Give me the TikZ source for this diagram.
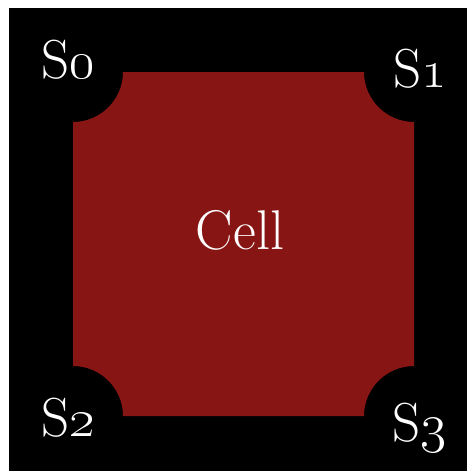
\RequirePackage{fix-cm}
\documentclass[tikz,border=0pt]{standalone}
\usepackage{tikz}
\usepackage{xcolor}
\definecolor{cellred}{RGB}{135,21,20}

\begin{document}
\begin{tikzpicture}[x=1pt,y=1pt,yscale=-1,xscale=1,
    corner label/.style={text=white,inner sep=0pt,anchor=base,font=\fontsize{55}{60}\selectfont},
    cell label/.style={text=white,inner sep=0pt,anchor=base,font=\fontsize{56}{60}\selectfont}]
                    \useasboundingbox (0,0) rectangle (467,471);
                    %Shape: Rectangle [frame]
                    \fill [white] (0,0) rectangle (467,471);
                    \fill [black] (9,8) rectangle (467,471);
                    %Shape: Square with concave corners [cell]
                    \fill [cellred] (123,72) -- (364,72) arc [start angle=180, end angle=90, radius=50]
                        -- (414,366) arc [start angle=270, end angle=180, radius=50]
                        -- (123,416) arc [start angle=0, end angle=-90, radius=50]
                        -- (73,122) arc [start angle=90, end angle=0, radius=50] -- cycle ;

                    % Text Node
                    \node [corner label] (s0) at (68,78) {S\oldstylenums{0}};
                    % Text Node
                    \node [corner label] (s1) at (420,87) {S\oldstylenums{1}};
                    % Text Node
                    \node [corner label] (s2) at (68,436) {S\oldstylenums{2}};
                    % Text Node
                    \node [corner label] (s3) at (419,441) {S\oldstylenums{3}};
                    % Text Node
                    \node [cell label] (cell) at (240,249) {Cell};
                \end{tikzpicture}
\end{document}
